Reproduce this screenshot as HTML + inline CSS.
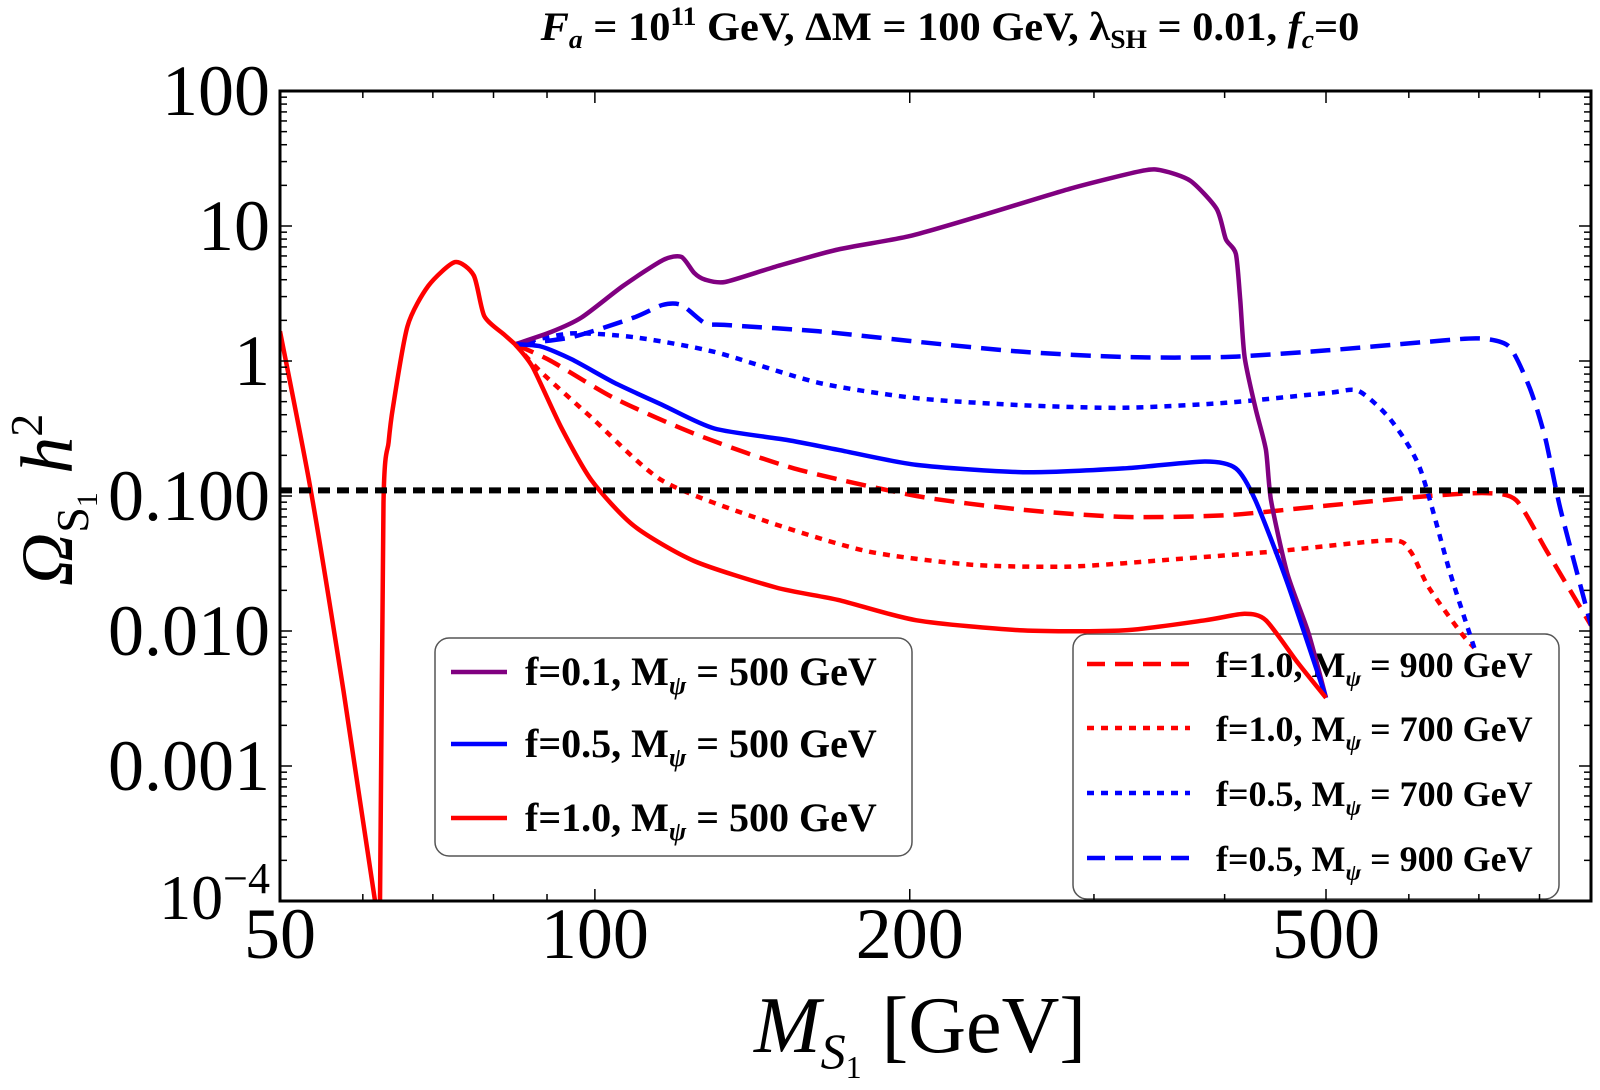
<!DOCTYPE html>
<html><head><meta charset="utf-8"><style>
body{margin:0;background:#fff;}
svg{display:block;font-family:"Liberation Serif",serif;}
</style></head><body>
<svg id="chart" width="1600" height="1090" xmlns="http://www.w3.org/2000/svg">
<g id="title">
<text x="950" y="40" text-anchor="middle" font-size="40" font-weight="bold" transform="translate(950,0) scale(1.06,1) translate(-950,0)"><tspan font-style="italic">F</tspan><tspan font-style="italic" font-size="26" dy="8">a</tspan><tspan dy="-8"> = 10</tspan><tspan font-size="26" dy="-15">11</tspan><tspan dy="15"> GeV, ΔM = 100 GeV, λ</tspan><tspan font-size="26" dy="8">SH</tspan><tspan dy="-8"> = 0.01, </tspan><tspan font-style="italic">f</tspan><tspan font-style="italic" font-size="26" dy="8">c</tspan><tspan dy="-8">=0</tspan></text>
</g>
<g id="legend1">
<rect x="435" y="638" width="477" height="218" rx="14" fill="#fff" stroke="#555" stroke-width="1.5"/>
</g>
<g id="legend2">
<rect x="1073" y="634" width="486" height="265" rx="14" fill="#fff" stroke="#555" stroke-width="1.5"/>
</g>
<g id="series"></g>
<g id="axes"></g>
<g>
<text transform="translate(72,500) rotate(-90)" text-anchor="middle" font-size="74" font-style="italic">Ω<tspan font-style="normal" font-size="46" dy="16">S</tspan><tspan font-style="normal" font-size="30" dy="9">1</tspan><tspan dy="-25"> h</tspan><tspan font-style="normal" font-size="46" dy="-30">2</tspan></text>
</g>
<g>
<text x="920" y="1052" text-anchor="middle" font-size="80"><tspan font-style="italic">M</tspan><tspan font-style="italic" font-size="50" dy="16">S</tspan><tspan font-size="32" dy="10">1</tspan><tspan dy="-26"> [GeV]</tspan></text>
</g>
</svg>
<script>
const NS="http://www.w3.org/2000/svg";
const X0=280,X1=1591,Y0=91,Y1=901;
const xMin=50,xMax=896,yMin=1e-4,yMax=100;
function xs(v){return X0+(Math.log10(v)-Math.log10(xMin))/(Math.log10(xMax)-Math.log10(xMin))*(X1-X0);}
function ys(v){return Y1-(Math.log10(v)-Math.log10(yMin))/(Math.log10(yMax)-Math.log10(yMin))*(Y1-Y0);}

const commonX=[50,53.5,57.5,61.9,62.3,62.8,63.5,64.1,66.2,69.3,73.5,76.6,78.4,81.9,83.9];
const commonY=[1.66,0.111,0.0036,0.00008,0.00008,0.09,0.25,0.45,1.81,3.6,5.4,4.3,2.15,1.57,1.33];

const purpleX=[83.9,90.8,97.1,106.4,116.2,121,124.4,127.5,133.2,148.9,170.8,199.7,233.7,285.3,334,349,371,393,401,410,414,418,428,438,443,459,481,500];
const purpleY=[1.33,1.64,2.1,3.6,5.6,5.9,4.5,4.0,3.85,5.0,6.7,8.4,11.9,19,25.7,25.7,21.6,13.4,8,6.2,2.8,1.07,0.45,0.22,0.093,0.027,0.0097,0.0032];

const blueSolidX=[83.9,88.8,95,104.4,116.2,130.1,152.7,170.8,203,256.6,320,383,410,428,459,500];
const blueSolidY=[1.33,1.28,1.03,0.69,0.47,0.316,0.26,0.22,0.17,0.15,0.16,0.18,0.16,0.093,0.023,0.0032];

const redSolidX=[83.9,87.2,92.9,99.3,109,124.4,149,170.8,203,256.6,320,383,418,438,470,500];
const redSolidY=[1.33,0.9,0.32,0.13,0.06,0.033,0.021,0.017,0.012,0.0101,0.0101,0.012,0.0134,0.012,0.0058,0.0032];

const blueDashX=[83.9,95,109,116,121,127.5,133,163.6,203,256.6,320,401,502,627,700,748,783,810,838,896];
const blueDashY=[1.33,1.5,2.1,2.6,2.6,1.9,1.85,1.66,1.39,1.17,1.07,1.07,1.2,1.39,1.47,1.28,0.63,0.27,0.079,0.011];

const blueDotX=[83.9,95,109,130,163.6,203,256.6,320,401,502,537,576,615,657,693];
const blueDotY=[1.33,1.6,1.5,1.17,0.69,0.53,0.47,0.45,0.49,0.58,0.6,0.37,0.16,0.027,0.0075];

const redDashX=[83.9,90.8,104.4,124.4,155,203,256.6,320,401,502,627,711,760,813,896];
const redDashY=[1.33,1.0,0.53,0.29,0.16,0.10,0.079,0.07,0.072,0.085,0.10,0.105,0.093,0.039,0.011];

const redDotX=[83.9,88.8,99.3,116,145,182,229,285,358,449,576,602,627,673,693];
const redDotY=[1.33,0.83,0.38,0.13,0.066,0.039,0.031,0.03,0.034,0.039,0.047,0.039,0.021,0.0097,0.0075];

const obsValue=[0.11];
const yTickVals=[100,10,1,0.1,0.01,0.001];
const yTickLabels=["100","10","1","0.100","0.010","0.001"];
const xTickVals=[50,100,200,500];
const xTickLabels=["50","100","200","500"];

const S=document.getElementById('series');
const clip=document.createElementNS(NS,'clipPath');clip.setAttribute('id','pc');
const cr=document.createElementNS(NS,'rect');cr.setAttribute('x',X0);cr.setAttribute('y',Y0);cr.setAttribute('width',X1-X0);cr.setAttribute('height',Y1-Y0);
clip.appendChild(cr);S.appendChild(clip);
S.setAttribute('clip-path','url(#pc)');

function line(xa,ya,color,dash,name){
  const p=document.createElementNS(NS,'path');
  const P=xa.map((x,i)=>[xs(x),ys(ya[i])]);
  let d='M'+P[0][0].toFixed(1)+','+P[0][1].toFixed(1);
  for(let i=0;i<P.length-1;i++){
    const p0=P[Math.max(0,i-1)],p1=P[i],p2=P[i+1],p3=P[Math.min(P.length-1,i+2)];
    const t=0.12;
    const c1=[p1[0]+(p2[0]-p0[0])*t,p1[1]+(p2[1]-p0[1])*t];
    const c2=[p2[0]-(p3[0]-p1[0])*t,p2[1]-(p3[1]-p1[1])*t];
    d+='C'+c1[0].toFixed(1)+','+c1[1].toFixed(1)+' '+c2[0].toFixed(1)+','+c2[1].toFixed(1)+' '+p2[0].toFixed(1)+','+p2[1].toFixed(1);
  }
  p.setAttribute('d',d);p.setAttribute('fill','none');p.setAttribute('stroke',color);
  p.setAttribute('stroke-width','4.5');p.setAttribute('stroke-linejoin','round');
  if(dash)p.setAttribute('stroke-dasharray',dash);
  
  
  S.appendChild(p);
}
line(redDashX,redDashY,'#ff0000','20,10','line-f1-m900');
line(redDotX,redDotY,'#ff0000','7,7','line-f1-m700');
line(blueDashX,blueDashY,'#0000ff','20,10','line-f05-m900');
line(blueDotX,blueDotY,'#0000ff','7,7','line-f05-m700');
line(purpleX,purpleY,'#800080',null,'line-f01-m500');
line(blueSolidX,blueSolidY,'#0000ff',null,'line-f05-m500');
line(redSolidX,redSolidY,'#ff0000',null,'line-f1-m500');
line(commonX,commonY,'#ff0000',null,'line-common-red');
{
  const l=document.createElementNS(NS,'line');
  l.setAttribute('x1',X0);l.setAttribute('x2',X1);l.setAttribute('y1',ys(obsValue[0]));l.setAttribute('y2',ys(obsValue[0]));
  l.setAttribute('stroke','#000');l.setAttribute('stroke-width','6');l.setAttribute('stroke-dasharray','12,7');
  
  
  S.appendChild(l);
}

const A=document.getElementById('axes');
function mk(tag,attrs){const e=document.createElementNS(NS,tag);for(const k in attrs)e.setAttribute(k,attrs[k]);A.appendChild(e);return e;}
const fr=mk('rect',{x:X0,y:Y0,width:X1-X0,height:Y1-Y0,fill:'none',stroke:'#000','stroke-width':3});


for(let e=-4;e<=2;e++){
  for(let m=1;m<10;m++){
    const v=m*Math.pow(10,e); if(v>yMax*1.0001)break;
    const y=ys(v),len=m===1?12:7;
    mk('line',{x1:X0,x2:X0+len,y1:y,y2:y,stroke:'#000','stroke-width':1.5});
    mk('line',{x1:X1,x2:X1-len,y1:y,y2:y,stroke:'#000','stroke-width':1.5});
  }
}
const xMinor=[60,70,80,90,100,200,300,400,500,600,700,800];
xMinor.forEach(v=>{const x=xs(v),len=(v===100||v===200||v===500)?12:7;
  mk('line',{x1:x,x2:x,y1:Y1,y2:Y1-len,stroke:'#000','stroke-width':1.5});
  mk('line',{x1:x,x2:x,y1:Y0,y2:Y0+len,stroke:'#000','stroke-width':1.5});});
yTickVals.forEach((v,i)=>{
  const t=mk('text',{x:X0-10,y:ys(v)+24,'text-anchor':'end','font-size':72});
  t.textContent=yTickLabels[i];
  
  
});
{
  const t=mk('text',{x:X0-10,y:ys(1e-4)+18,'text-anchor':'end','font-size':64});
  t.innerHTML='10<tspan font-size="44" dy="-26">−4</tspan>';
  
  
}
xTickVals.forEach((v,i)=>{
  const t=mk('text',{x:xs(v),y:958,'text-anchor':'middle','font-size':72});
  t.textContent=xTickLabels[i];
  
  
});

function legend(gid,x1,x2,tx,y,color,dash,f,m,fs){
  const g=document.getElementById(gid);
  const l=document.createElementNS(NS,'line');
  l.setAttribute('x1',x1);l.setAttribute('x2',x2);l.setAttribute('y1',y);l.setAttribute('y2',y);
  l.setAttribute('stroke',color);l.setAttribute('stroke-width','4.5');if(dash)l.setAttribute('stroke-dasharray',dash);
  
  
  g.appendChild(l);
  const t=document.createElementNS(NS,'text');
  t.setAttribute('x',tx);t.setAttribute('y',y+13);t.setAttribute('font-size',fs);t.setAttribute('font-weight','bold');
  t.innerHTML='f='+f+', M<tspan font-style="italic" font-size="'+(fs*0.65)+'" dy="9">ψ</tspan><tspan dy="-9"> = '+m+' GeV</tspan>';
  
  
  g.appendChild(t);
}
legend('legend1',451,507,525,672,'#800080',null,'0.1','500',40);
legend('legend1',451,507,525,744,'#0000ff',null,'0.5','500',40);
legend('legend1',451,507,525,818,'#ff0000',null,'1.0','500',40);
legend('legend2',1087,1190,1216,664,'#ff0000','18,10','1.0','900',36);
legend('legend2',1087,1190,1216,728,'#ff0000','7,7','1.0','700',36);
legend('legend2',1087,1190,1216,793,'#0000ff','7,7','0.5','700',36);
legend('legend2',1087,1190,1216,858,'#0000ff','18,10','0.5','900',36);
</script>
</body></html>
